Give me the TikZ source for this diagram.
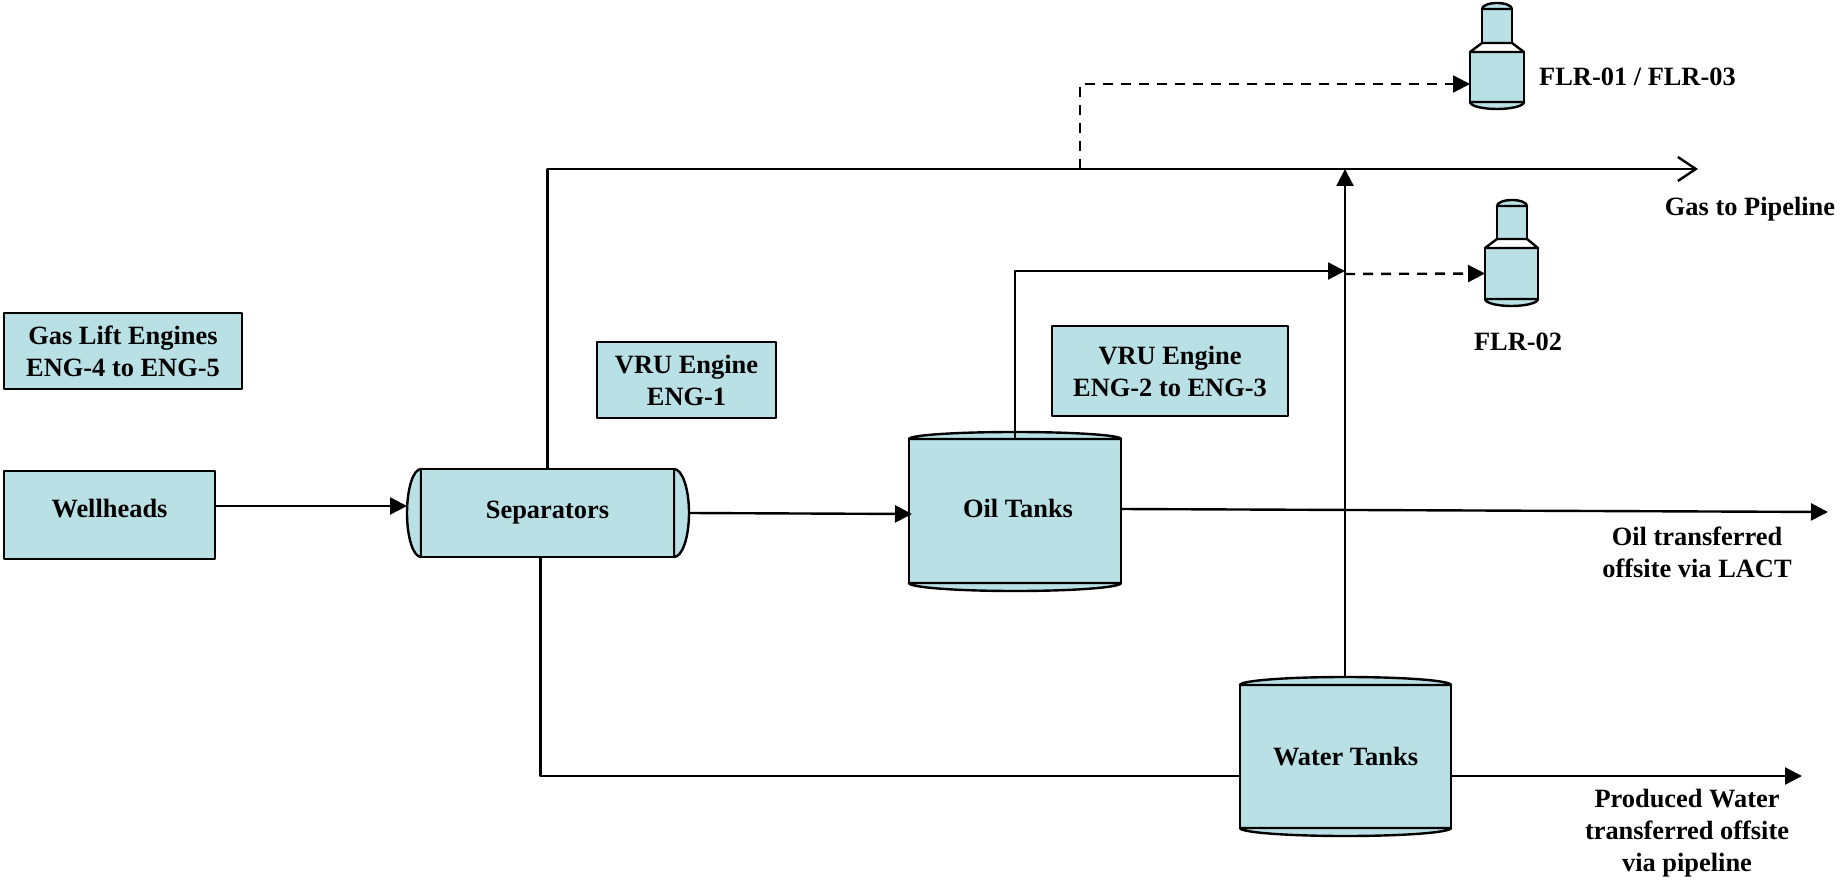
\documentclass[tikz,border=0pt]{standalone}
\usepackage{fontspec}
\setmainfont{Liberation Serif}
\usetikzlibrary{arrows.meta}

\definecolor{vesselfill}{HTML}{B9E0E4}
\tikzset{
    base/.style = {line width=2.4pt, draw=black, line join=round},
    vessel/.style = {base, fill=vesselfill},
    boxed/.style = {vessel, outer sep=0pt, inner sep=0pt, align=center, font=\bfseries\fontsize{26.4}{32}\selectfont},
    tag/.style = {inner sep=0pt, align=center, font=\bfseries\fontsize{26.4}{32}\selectfont},
    flow/.style = {base, -{Triangle[length=17pt,width=17pt]}},
    vent/.style = {flow, dash pattern=on 10pt off 8pt},
    sales/.style = {base, -{Straight Barb[length=18pt,width=24pt]}}
}
% half ellipses on the top or bottom of a vertical vessel
\newcommand{\topcap}[3]{
    \draw[vessel] (#1.north west) arc[start angle=180, end angle=0, x radius=#2pt, y radius=#3pt] -- cycle;
}
\newcommand{\bottomcap}[3]{
    \draw[vessel] (#1.south west) arc[start angle=180, end angle=360, x radius=#2pt, y radius=#3pt] -- cycle;
}

\begin{document}
\begin{tikzpicture}[x=1pt, y=-1pt]
    \useasboundingbox (0,0) rectangle (1841,882);

    \node[boxed, minimum width=238pt, minimum height=76pt] (lift) at (123,351) {Gas Lift Engines\\ENG-4 to ENG-5};
    \node[boxed, minimum width=211pt, minimum height=88pt, text depth=14pt] (well) at (109.5,515) {Wellheads};
    \node[boxed, minimum width=179pt, minimum height=76pt] (vruA) at (686.5,380) {VRU Engine\\ENG-1};
    \node[boxed, minimum width=236pt, minimum height=90pt] (vruB) at (1170,371) {VRU Engine\\ENG-2 to ENG-3};

    % separator with its two round ends
    \draw[vessel] (421,469) arc[start angle=90, end angle=270, x radius=14pt, y radius=44pt] -- cycle;
    \draw[vessel] (674,469) arc[start angle=90, end angle=-90, x radius=15pt, y radius=44pt] -- cycle;
    \node[boxed, minimum width=253pt, minimum height=88pt] (sep) at (547.5,513) {Separators};

    \node[boxed, minimum width=212pt, minimum height=144pt, text depth=6pt] (oil) at (1015,511) {\hspace*{6pt}Oil Tanks};
    \topcap{oil}{106}{7}
    \bottomcap{oil}{106}{8}
    \node[boxed, minimum width=211pt, minimum height=143pt] (water) at (1345.5,756.5) {Water Tanks};
    \topcap{water}{105.5}{8}
    \bottomcap{water}{105.5}{8}

    % flares
    \node[boxed, minimum width=30pt, minimum height=34pt] (stackA) at (1497,26) {};
    \node[boxed, minimum width=54pt, minimum height=50pt] (flrA) at (1497,77) {};
    \topcap{stackA}{15}{6}
    \bottomcap{flrA}{27}{7}
    \draw[base, fill=white] (stackA.south west) -- (flrA.north west) -- (flrA.north east) -- (stackA.south east) -- cycle;
    \node[boxed, minimum width=30pt, minimum height=33pt] (stackB) at (1512,222.5) {};
    \node[boxed, minimum width=53pt, minimum height=51pt] (flrB) at (1511.5,273.5) {};
    \topcap{stackB}{15}{6}
    \bottomcap{flrB}{26.5}{7}
    \draw[base, fill=white] (stackB.south west) -- (flrB.north west) -- (flrB.north east) -- (stackB.south east) -- cycle;

    \node[tag, anchor=west] (flrAtag) at (1539,77) {FLR-01 / FLR-03};
    \node[tag] (flrBtag) at (1518,342) {FLR-02};
    \node[tag] (gastag) at (1750,209) {Gas to Pipeline};
    \node[tag] (oiltag) at (1697,552) {Oil transferred\\offsite via LACT};
    \node[tag] (watertag) at (1687,833) {Produced Water\\transferred offsite\\via pipeline};

    \coordinate (sepin) at (407,506);
    \coordinate (sepout) at (689,513);
    \coordinate (oilin) at (912,514);
    \coordinate (oilgas) at (1345,271);
    \coordinate (ventB) at (1345,274);
    \coordinate (watercap) at (1345,677);
    \coordinate (gasend) at (1698,169);
    \coordinate (gastee) at (1345,169);
    \coordinate (flaretee) at (1080,169);
    \coordinate (ventA) at (1470,84);
    \coordinate (oilend) at (1828,512);
    \coordinate (waterend) at (1802,776);

    \draw[flow] ([yshift=9pt]well.east) -- (sepin);
    \draw[flow] (sepout) -- (oilin);
    \draw[flow] ([yshift=2pt]oil.east) -- (oilend);
    \draw[sales] (sep.north) |- (gasend);
    \draw[base] ([xshift=-7pt]sep.south) |- (water.west |- waterend);
    \draw[flow] (water.east |- waterend) -- (waterend);
    \draw[flow] (oil.north) |- (oilgas);
    \draw[flow] (watercap) -- (gastee);
    \draw[vent] (flaretee) |- (ventA);
    \draw[vent] (ventB) -- (flrB.west);
\end{tikzpicture}
\end{document}
